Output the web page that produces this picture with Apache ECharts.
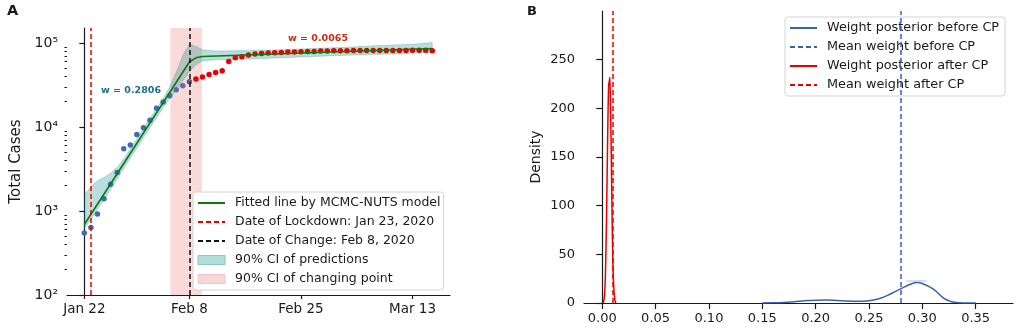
<!DOCTYPE html>
<html>
<head>
<meta charset="utf-8">
<script src="https://cdn.jsdelivr.net/npm/echarts@6/dist/echarts.min.js"></script>
<style>
  html, body { margin: 0; padding: 0; background: #fff; }
  #chart { width: 1021px; height: 331px; }
</style>
</head>
<body>
<div id="chart"></div>
<script>
// ---- Panel A: total cases, day index 0 = Jan 22 ----
const totalCases = [
  546, 637, 920, 1400, 2080, 2870, 5500, 6090, 8170, 9800,
  12000, 16700, 19900, 23600, 27700, 30900, 34700, 37400, 39500, 42200,
  44500, 46700, 60300, 66700, 68500, 71900, 74000, 75100, 75900, 76600,
  77200, 78000, 78000, 78700, 79400, 79400, 80200, 80200, 80900, 80900,
  80900, 81600, 81600, 81600, 81600, 81600, 81600, 81600, 81600, 81600,
  82000, 82000, 82000, 81200
]
const changeIndex = 16 // last point before the change

// fitted line (MCMC-NUTS)
const fitDays = [0, 16, 17, 18, 53]
const fitCases = [690, 59500, 66700, 69200, 86100]

// 90% CI of predictions
const bandDays = [0, 1, 2, 3, 4, 5, 6, 8, 10, 12, 13, 14, 15, 16, 17, 18, 20, 25, 30, 35, 40, 45, 50, 53]
const bandLower = [620, 790, 1050, 1380, 1820, 2400, 3240, 5620, 9770, 17000, 21900, 27500, 35500, 45700, 55000, 61700, 63100, 64600, 66800, 69200, 71600, 73300, 75900, 76700]
const bandUpper = [1550, 1950, 2290, 2510, 2820, 3310, 4170, 7240, 12600, 21900, 30200, 44700, 70800, 97700, 91200, 83200, 80400, 81300, 83200, 86100, 89100, 93300, 96600, 101200]

const lockdownDay = 1
const changeDay = 16
const changeCI = [13.1, 17.9]

const dateTicks = [0, 16, 33, 50]
const dateTickLabels = ['Jan 22', 'Feb 8', 'Feb 25', 'Mar 13']
const decadeTicks = [2, 3, 4, 5]

// ---- Panel B: posterior densities of the weight ----
const weightBefore = [0.150, 0.160, 0.170, 0.180, 0.190, 0.200, 0.210, 0.220, 0.230, 0.240, 0.250, 0.260, 0.270, 0.280, 0.290, 0.295, 0.300, 0.310, 0.320, 0.325, 0.330, 0.340, 0.350]
const densityBefore = [0, 0.2, 0.6, 1.4, 2.3, 2.9, 3.0, 2.6, 2.0, 1.8, 2.4, 4.6, 9.2, 14.8, 19.8, 21, 20, 14.5, 5.0, 2.2, 0.8, 0.1, 0]
const weightAfter = [0.0010, 0.0020, 0.0030, 0.0040, 0.0050, 0.0055, 0.0060, 0.0066, 0.0072, 0.0078, 0.0085, 0.0092, 0.0100, 0.0110, 0.0120, 0.0128]
const densityAfter = [0, 6, 30, 86, 165, 200, 224, 228, 232, 200, 150, 90, 40, 12, 2, 0]
const meanBefore = 0.2806
const meanAfter = 0.0065
const peakBar = [0.285, 0.304]
const peakBarLevel = 22.6

const weightTicks = [0, 0.05, 0.10, 0.15, 0.20, 0.25, 0.30, 0.35]
const densityTicks = [0, 50, 100, 150, 200, 250]

const FONT = 'DejaVu Sans'
const INK = '#1a1a1a'
const BLUE = '#3d6db4'
const RED = '#e60000'

const sup = { 2: '\u00b2', 3: '\u00b3', 4: '\u2074', 5: '\u2075' }
const minorTicks = []
for (let n = 2; n <= 4; n++) {
  for (let k = 2; k <= 9; k++) minorTicks.push(Math.log10(k * Math.pow(10, n)))
}

const dotColor = (i) => {
  if (i > changeIndex) return RED
  const mixed = { 14: '#5a6aab', 15: '#6b68a4', 16: '#5c5c96' }
  return mixed[i] || BLUE
}

const axisLine = { show: true, lineStyle: { color: INK, width: 1.2 } }
const hideSymbol = { opacity: 0 }

const chart = echarts.init(document.getElementById('chart'))

// CI band drawn as one polygon through the axis scales
const renderBand = (params, api) => {
  if (params.dataIndex !== 0) return
  const top = bandDays.map((d, i) => api.coord([d, Math.log10(bandUpper[i])]))
  const bottom = bandDays.map((d, i) => api.coord([d, Math.log10(bandLower[i])])).reverse()
  return {
    type: 'polygon',
    shape: { points: top.concat(bottom) },
    style: { fill: 'rgba(0,128,128,0.27)', stroke: 'rgba(0,128,128,0.3)', lineWidth: 0.8 }
  }
}

const option = {
  animation: false,
  textStyle: { fontFamily: FONT },
  grid: [
    { left: 67, top: 28, width: 383, height: 267, outerBoundsMode: 'none' },
    { left: 584, top: 11, width: 429, height: 292, outerBoundsMode: 'none' }
  ],
  xAxis: [
    {
      type: 'value', gridIndex: 0, min: -2.64, max: 55.7,
      axisLine,
      splitLine: { show: false },
      axisTick: { customValues: dateTicks, length: 4, lineStyle: { color: INK, width: 1.2 } },
      axisLabel: {
        customValues: dateTicks, margin: 7, fontSize: 13.5, color: INK,
        formatter: (v) => dateTickLabels[dateTicks.indexOf(v)]
      }
    },
    {
      type: 'value', gridIndex: 1, min: -0.0171, max: 0.385,
      axisLine,
      splitLine: { show: false },
      axisTick: { customValues: weightTicks, length: 6, lineStyle: { color: INK, width: 1.2 } },
      axisLabel: {
        customValues: weightTicks, margin: 9, fontSize: 13, color: INK,
        formatter: (v) => v.toFixed(2)
      }
    }
  ],
  yAxis: [
    {
      type: 'value', gridIndex: 0, min: 2, max: 5.179, position: 'left',
      name: 'Total Cases', nameLocation: 'middle', nameGap: 43,
      nameTextStyle: { fontSize: 15, color: INK },
      axisLine,
      splitLine: { show: false },
      axisTick: { customValues: decadeTicks, length: 5, lineStyle: { color: INK, width: 1.2 } },
      axisLabel: {
        customValues: decadeTicks, margin: 9, fontSize: 14, color: INK,
        formatter: (v) => '10' + sup[v]
      }
    },
    {
      type: 'value', gridIndex: 0, min: 2, max: 5.179, position: 'left',
      axisLine: { show: false },
      splitLine: { show: false },
      axisTick: { customValues: minorTicks, length: 2.5, lineStyle: { color: INK, width: 1 } },
      axisLabel: { show: false }
    },
    {
      type: 'value', gridIndex: 1, min: 0, max: 300,
      name: 'Density', nameLocation: 'middle', nameGap: 41,
      nameTextStyle: { fontSize: 14, color: INK },
      axisLine,
      splitLine: { show: false },
      axisTick: { customValues: densityTicks, length: 6, lineStyle: { color: INK, width: 1.2 } },
      axisLabel: { customValues: densityTicks, margin: 9, fontSize: 13, color: INK }
    }
  ],
  legend: [
    {
      left: 193, top: 192, orient: 'vertical', selectedMode: false,
      padding: [4, 3, 4, 4], itemWidth: 27, itemHeight: 9, itemGap: 5,
      backgroundColor: '#fff', borderColor: '#d4d4d4', borderWidth: 1, borderRadius: 3,
      textStyle: { fontSize: 12.5, color: INK, lineHeight: 14, padding: [0, 0, 0, 5] },
      data: [
        { name: 'Fitted line by MCMC-NUTS model', itemStyle: hideSymbol },
        { name: 'Date of Lockdown: Jan 23, 2020', itemStyle: hideSymbol },
        { name: 'Date of Change: Feb 8, 2020', itemStyle: hideSymbol },
        { name: '90% CI of predictions', icon: 'rect', itemStyle: { color: '#b3dcdc', borderColor: '#8cc6c6', borderWidth: 1 } },
        { name: '90% CI of changing point', icon: 'rect', itemStyle: { color: '#f9d6d6', borderColor: '#f4c4c4', borderWidth: 1 } }
      ]
    },
    {
      left: 785, top: 17, orient: 'vertical', selectedMode: false,
      padding: [4, 6, 4, 4], itemWidth: 27, itemHeight: 9, itemGap: 5,
      backgroundColor: '#fff', borderColor: '#d4d4d4', borderWidth: 1, borderRadius: 3,
      textStyle: { fontSize: 12.8, color: INK, lineHeight: 14, padding: [0, 0, 0, 5] },
      data: [
        { name: 'Weight posterior before CP', itemStyle: hideSymbol },
        { name: 'Mean weight before CP', itemStyle: hideSymbol },
        { name: 'Weight posterior after CP', itemStyle: hideSymbol },
        { name: 'Mean weight after CP', itemStyle: hideSymbol }
      ]
    }
  ],
  graphic: [
    { type: 'text', left: 7, top: 4, style: { text: 'A', font: 'bold 14.5px "DejaVu Sans"', fill: INK } },
    { type: 'text', left: 527, top: 5, style: { text: 'B', font: 'bold 13px "DejaVu Sans"', fill: INK } },
    { type: 'text', left: 101, top: 86, style: { text: 'w = 0.2806', font: 'bold 9.5px "DejaVu Sans"', fill: '#1f6b8e' } },
    { type: 'text', left: 288, top: 34, style: { text: 'w = 0.0065', font: 'bold 9.5px "DejaVu Sans"', fill: '#cf2a10' } }
  ],
  series: [
    // ---- Panel A ----
    {
      name: '90% CI of changing point', type: 'line', xAxisIndex: 0, yAxisIndex: 0,
      symbol: 'none', data: [], silent: true,
      markArea: {
        silent: true,
        itemStyle: { color: 'rgba(240,128,128,0.3)' },
        data: [[{ xAxis: changeCI[0] }, { xAxis: changeCI[1] }]]
      }
    },
    {
      name: '90% CI of predictions', type: 'custom', xAxisIndex: 0, yAxisIndex: 0,
      silent: true, clip: true, renderItem: renderBand,
      data: bandDays.map((d, i) => [d, Math.log10(bandLower[i]), Math.log10(bandUpper[i])]),
      encode: { x: 0, y: [1, 2] }
    },
    {
      name: 'Date of Lockdown: Jan 23, 2020', type: 'line', xAxisIndex: 0, yAxisIndex: 0,
      symbol: 'none', data: [], color: RED,
      lineStyle: { color: RED, type: [5, 3], width: 1.5 },
      markLine: {
        silent: true, symbol: 'none', label: { show: false },
        lineStyle: { color: RED, type: [5, 3], width: 1.5 },
        data: [{ xAxis: lockdownDay }]
      }
    },
    {
      name: 'Date of Change: Feb 8, 2020', type: 'line', xAxisIndex: 0, yAxisIndex: 0,
      symbol: 'none', data: [], color: '#111',
      lineStyle: { color: '#111', type: [5, 3], width: 1.5 },
      markLine: {
        silent: true, symbol: 'none', label: { show: false },
        lineStyle: { color: '#111', type: [5, 3], width: 1.5 },
        data: [{ xAxis: changeDay }]
      }
    },
    {
      name: 'Fitted line by MCMC-NUTS model', type: 'line', xAxisIndex: 0, yAxisIndex: 0,
      symbol: 'none', color: '#0a7a0a',
      lineStyle: { color: '#0a7a0a', width: 1.6 },
      data: fitDays.map((d, i) => [d, Math.log10(fitCases[i])])
    },
    {
      type: 'scatter', xAxisIndex: 0, yAxisIndex: 0, symbolSize: 5.5,
      data: totalCases.map((v, i) => ({ value: [i, Math.log10(v)], itemStyle: { color: dotColor(i), opacity: 1 } }))
    },
    // ---- Panel B ----
    {
      name: 'Weight posterior before CP', type: 'line', xAxisIndex: 1, yAxisIndex: 2,
      symbol: 'none', smooth: 0.4, color: '#3a62ab',
      lineStyle: { color: '#3a62ab', width: 1.5 },
      data: weightBefore.map((w, i) => [w, densityBefore[i]])
    },
    {
      type: 'line', xAxisIndex: 1, yAxisIndex: 2, symbol: 'none', silent: true,
      lineStyle: { color: '#a9bde0', width: 1.2 },
      data: peakBar.map((w) => [w, peakBarLevel])
    },
    {
      name: 'Mean weight before CP', type: 'line', xAxisIndex: 1, yAxisIndex: 2,
      symbol: 'none', data: [], color: '#3a62ab',
      lineStyle: { color: '#3a62ab', type: [5, 3], width: 1.5 },
      markLine: {
        silent: true, symbol: 'none', label: { show: false },
        lineStyle: { color: '#3a62ab', type: [5, 3], width: 1.5 },
        data: [{ xAxis: meanBefore }]
      }
    },
    {
      name: 'Weight posterior after CP', type: 'line', xAxisIndex: 1, yAxisIndex: 2,
      symbol: 'none', smooth: 0.2, color: RED,
      lineStyle: { color: RED, width: 1.5 },
      data: weightAfter.map((w, i) => [w, densityAfter[i]])
    },
    {
      name: 'Mean weight after CP', type: 'line', xAxisIndex: 1, yAxisIndex: 2,
      symbol: 'none', data: [], color: RED,
      lineStyle: { color: RED, type: [5, 3], width: 1.5 },
      markLine: {
        silent: true, symbol: 'none', label: { show: false },
        lineStyle: { color: RED, type: [5, 3], width: 1.5 },
        data: [{ xAxis: meanAfter }]
      }
    }
  ]
}

chart.setOption(option)

window.addEventListener('resize', () => chart.resize())
</script>
</body>
</html>
